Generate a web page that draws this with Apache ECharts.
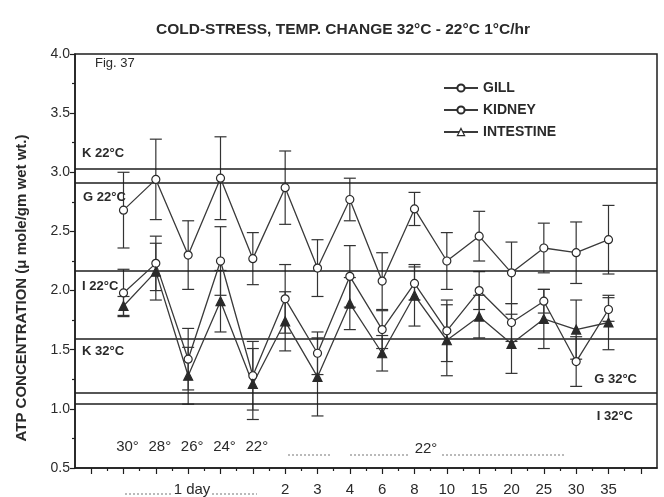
<!DOCTYPE html>
<html>
<head>
<meta charset="utf-8">
<script src="https://cdn.jsdelivr.net/npm/echarts@6/dist/echarts.min.js"></script>
<style>html,body{margin:0;padding:0;background:#fff}#c{width:664px;height:497px}</style>
</head>
<body>
<div id="c"></div>
<script>
// ---- data ----
const dayLabels = ['2','3','4','6','8','10','15','20','25','30','35']; // at point index 5..15
const tempLabels = ['30°','28°','26°','24°','22°'];                   // point index 0..4
const gill         = [2.68,2.94,2.30,2.95,2.27,2.87,2.19,2.77,2.08,2.69,2.25,2.46,2.15,2.36,2.32,2.43];
const gillErr      = [0.32,0.34,0.29,0.35,0.22,0.31,0.24,0.18,0.24,0.14,0.24,0.21,0.26,0.21,0.26,0.29];
const kidney       = [1.98,2.23,1.42,2.25,1.28,1.93,1.47,2.12,1.67,2.06,1.66,2.00,1.73,1.91,1.40,1.84];
const kidneyErr    = [0.20,0.23,0.26,0.29,0.29,0.29,0.18,0.26,0.16,0.14,0.26,0.16,0.16,0.10,0.21,0.10];
const intestine    = [1.87,2.16,1.28,1.91,1.21,1.74,1.27,1.89,1.47,1.96,1.58,1.78,1.55,1.76,1.67,1.73];
const intestineErr = [0.08,0.24,0.24,0.26,0.30,0.25,0.33,0.22,0.15,0.26,0.30,0.18,0.25,0.25,0.25,0.23];
const refNames  = ['K 22°C','G 22°C','I 22°C','K 32°C','G 32°C','I 32°C'];
const refValues = [3.03, 2.91, 2.17, 1.59, 1.14, 1.04];

// ---- build ----
const INK = '#1e1e1e';
const TXT = '#2a2a2a';
const FONT = 'Liberation Sans';
const pts = arr => arr.map((v, i) => [i, v]);
const errData = [];
[[gill, gillErr], [kidney, kidneyErr], [intestine, intestineErr]].forEach(([v, e]) => {
  v.forEach((y, i) => errData.push([i, y - e[i], y + e[i]]));
});
const refPlace = [
  ['insideStartTop', [7, 9]], ['insideStartBottom', [8, 8]], ['insideStartBottom', [7, 9]],
  ['insideStartBottom', [7, 6]], ['insideEndTop', [20, 6]], ['insideEndBottom', [24, 6]]
];
const intTicks = [], halfTicks = [], labTicks = [];
for (let i = -1; i <= 16; i++) intTicks.push(i);
for (let i = -1; i <= 15; i++) halfTicks.push(i + 0.5);
for (let i = 5; i <= 15; i++) labTicks.push(i);

const chart = echarts.init(document.getElementById('c'), null, {renderer: 'canvas'});
const lineSeries = (name, data, symbol, size, fill) => ({
  name, type: 'line', data: pts(data), symbol, symbolSize: size, z: 5,
  lineStyle: {color: '#3a3a3a', width: 1.3},
  itemStyle: {color: fill, borderColor: '#2a2a2a', borderWidth: 1.2},
  emphasis: {disabled: true}, animation: false
});

chart.setOption({
  animation: false,
  title: {
    text: 'COLD-STRESS, TEMP. CHANGE 32°C - 22°C 1°C/hr',
    left: 338, top: 17, textAlign: 'center',
    textStyle: {fontFamily: FONT, fontSize: 15.5, fontWeight: 'bold', color: TXT}
  },
  grid: {left: 75, right: 7, top: 54, bottom: 29, show: true, borderColor: INK, borderWidth: 1.5, backgroundColor: 'transparent'},
  legend: {
    orient: 'vertical', left: 438, top: 76, itemWidth: 34, itemHeight: 9, itemGap: 8, itemSymbolSize: 8,
    textStyle: {fontFamily: FONT, fontSize: 14, fontWeight: 'bold', color: TXT},
    data: [
      {name: 'GILL'}, {name: 'KIDNEY'},
      {name: 'INTESTINE', itemStyle: {color: '#fff', borderColor: '#2a2a2a', borderWidth: 1.2}}
    ]
  },
  xAxis: [{
    type: 'value', min: -1.5, max: 16.5, splitLine: {show: false},
    axisLine: {onZero: false, lineStyle: {color: INK, width: 1.5}},
    axisTick: {customValues: intTicks, length: 6, lineStyle: {color: INK, width: 1.2}},
    axisLabel: {customValues: labTicks, margin: 14, formatter: v => dayLabels[Math.round(v) - 5],
      fontFamily: FONT, fontSize: 15, color: TXT}
  }, {
    type: 'value', min: -1.5, max: 16.5, position: 'bottom', splitLine: {show: false},
    axisLine: {show: false, onZero: false},
    axisTick: {customValues: halfTicks, length: 3, lineStyle: {color: INK, width: 1.2}},
    axisLabel: {show: false}
  }],
  yAxis: {
    type: 'value', min: 0.5, max: 4.0, interval: 0.5, splitLine: {show: false},
    axisLine: {show: true, onZero: false, lineStyle: {color: INK, width: 1.5}},
    axisTick: {show: true, length: 5, lineStyle: {color: INK, width: 1.2}},
    minorTick: {show: true, splitNumber: 2, length: 3, lineStyle: {color: INK, width: 1.2}},
    axisLabel: {formatter: v => v.toFixed(1), margin: 5, fontFamily: FONT, fontSize: 14, color: TXT}
  },
  graphic: [
    {type: 'text', x: 22, y: 288, rotation: Math.PI / 2,
      style: {text: 'ATP CONCENTRATION (\u03bc mole/gm wet wt.)', fontFamily: FONT, fontSize: 15,
        fontWeight: 'bold', fill: TXT, align: 'center', verticalAlign: 'middle'}},
    {type: 'text', x: 95, y: 63, style: {text: 'Fig. 37', fontFamily: FONT, fontSize: 13,
      fill: TXT, verticalAlign: 'middle'}},
    {type: 'text', x: 426, y: 449, style: {text: '22°', fontFamily: FONT, fontSize: 15,
      fill: TXT, align: 'center', verticalAlign: 'middle'}},
    {type: 'line', shape: {x1: 288, y1: 455, x2: 330, y2: 455}, style: {stroke: '#777', lineWidth: 1, lineDash: [2, 2]}},
    {type: 'line', shape: {x1: 350, y1: 455, x2: 410, y2: 455}, style: {stroke: '#777', lineWidth: 1, lineDash: [2, 2]}},
    {type: 'line', shape: {x1: 442, y1: 455, x2: 565, y2: 455}, style: {stroke: '#777', lineWidth: 1, lineDash: [2, 2]}},
    {type: 'text', x: 192, y: 490, style: {text: '1 day', fontFamily: FONT, fontSize: 15,
      fill: TXT, align: 'center', verticalAlign: 'middle'}},
    {type: 'line', shape: {x1: 125, y1: 494, x2: 173, y2: 494}, style: {stroke: '#777', lineWidth: 1, lineDash: [2, 2]}},
    {type: 'line', shape: {x1: 212, y1: 494, x2: 257, y2: 494}, style: {stroke: '#777', lineWidth: 1, lineDash: [2, 2]}}
  ],
  series: [
    {
      name: 'err', type: 'custom', data: errData, z: 3, animation: false, silent: true,
      renderItem: (params, api) => {
        const x = api.value(0);
        const lo = api.coord([x, api.value(1)]);
        const hi = api.coord([x, api.value(2)]);
        const w = 6;
        const st = {stroke: '#333', lineWidth: 1.2};
        return {type: 'group', children: [
          {type: 'line', shape: {x1: lo[0], y1: lo[1], x2: hi[0], y2: hi[1]}, style: st},
          {type: 'line', shape: {x1: lo[0] - w, y1: lo[1], x2: lo[0] + w, y2: lo[1]}, style: st},
          {type: 'line', shape: {x1: hi[0] - w, y1: hi[1], x2: hi[0] + w, y2: hi[1]}, style: st}
        ]};
      }
    },
    Object.assign(lineSeries('GILL', gill, 'circle', 8, '#fff'), {
      markLine: {
        silent: true, symbol: 'none', animation: false,
        lineStyle: {color: INK, width: 1.5, type: 'solid'},
        data: refValues.map((v, i) => ({
          yAxis: v, name: refNames[i],
          label: {show: true, formatter: refNames[i], position: refPlace[i][0], distance: refPlace[i][1],
            fontFamily: FONT, fontSize: 13, fontWeight: 'bold', color: TXT}
        }))
      }
    }),
    lineSeries('KIDNEY', kidney, 'circle', 8, '#fff'),
    lineSeries('INTESTINE', intestine, 'triangle', 9, '#2a2a2a'),
    {
      name: 'temps', type: 'scatter', symbolSize: 1, silent: true, z: 6,
      itemStyle: {opacity: 0},
      data: tempLabels.map((t, i) => [i, 0.68]),
      label: {show: true, position: 'top', distance: 0, offset: [4, 8], formatter: p => tempLabels[p.dataIndex],
        fontFamily: FONT, fontSize: 15, color: TXT, opacity: 1}
    }
  ]
});
</script>
</body>
</html>
